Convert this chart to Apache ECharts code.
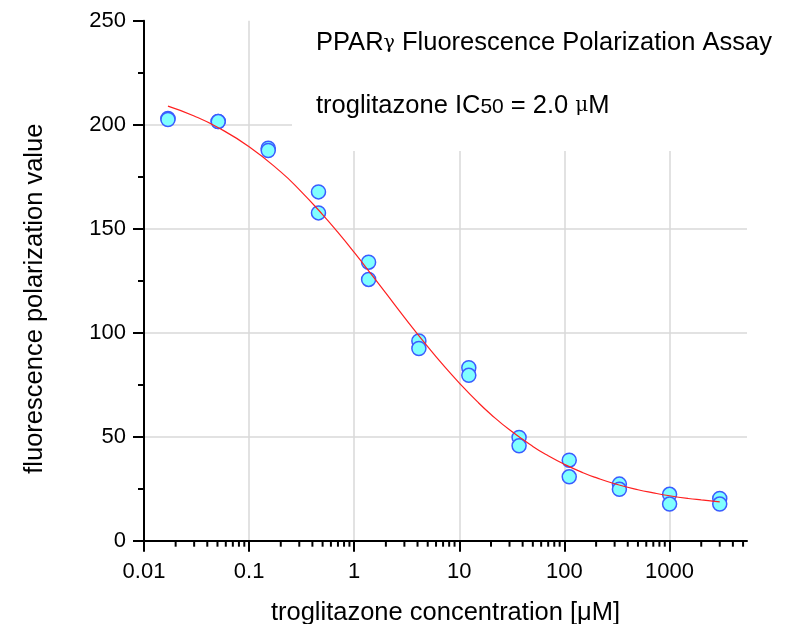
<!DOCTYPE html>
<html>
<head>
<meta charset="utf-8">
<script src="https://cdn.jsdelivr.net/npm/echarts@6/dist/echarts.min.js"></script>
<style>html,body{margin:0;padding:0;background:#fff}#c{width:795px;height:624px}</style>
</head>
<body>
<div id="c"></div>
<script>
// Concentrations (µM) and two replicate readings
const conc = [0.0169, 0.0508, 0.152, 0.457, 1.37, 4.12, 12.3, 37.0, 111, 333, 1000, 3000];
const rep1 = [203.0, 201.5, 188.7, 167.7, 133.9, 96.0, 83.2, 49.6, 38.7, 27.2, 22.3, 20.3];
const rep2 = [202.5, 201.5, 187.6, 157.6, 125.6, 92.4, 79.5, 45.6, 30.7, 24.7, 17.6, 17.6];
// Fitted curve
const fitX = [0.0169, 0.03, 0.05, 0.1, 0.2, 0.3, 0.5, 0.7, 1, 1.5, 2, 3, 5, 7, 10, 15, 20, 30, 50, 70, 100, 150, 200, 300, 500, 700, 1000, 1500, 2000, 3000];
const fitY = [208.9, 204.2, 198.8, 189.4, 177.3, 168.8, 156.8, 148.2, 138.6, 127.2, 119.0, 107.4, 93.3, 84.5, 75.8, 66.6, 60.7, 53.3, 45.3, 40.8, 36.7, 32.7, 30.3, 27.4, 24.5, 23.0, 21.6, 20.3, 19.6, 18.7];
// Axis ticks
const xMajorTicks = [0.01, 0.1, 1, 10, 100, 1000];
const xMinorTicks = [0.02,0.03,0.04,0.05,0.06,0.07,0.08,0.09, 0.2,0.3,0.4,0.5,0.6,0.7,0.8,0.9, 2,3,4,5,6,7,8,9, 20,30,40,50,60,70,80,90, 200,300,400,500,600,700,800,900, 2000,3000,4000,5000];
const yTicks = [0, 50, 100, 150, 200, 250];

const FONT = 'Arial, "Liberation Sans", sans-serif';

const points = [];
conc.forEach((c, i) => { points.push([c, rep1[i]]); points.push([c, rep2[i]]); });
const curve = fitX.map((x, i) => [x, fitY[i]]);

const chart = echarts.init(document.getElementById('c'), null, {renderer: 'canvas'});
chart.setOption({
  animation: false,
  backgroundColor: '#fff',
  grid: {left: 144, right: 48, top: 20.7, bottom: 83.3, containLabel: false, outerBoundsMode: 'none'},
  title: [
    {text: 'PPAR{g|γ} Fluorescence Polarization Assay', left: 316, top: 30, padding: 0, z: 5,
     textStyle: {fontFamily: FONT, fontSize: 25.5, fontWeight: 'normal', color: '#000',
       rich: {g: {fontFamily: '"DejaVu Serif", serif', fontSize: 19, color: '#000'}}}},
    {text: 'troglitazone IC{s|50} = 2.0 {m|μ}M', left: 316, top: 93, padding: 0, z: 5,
     textStyle: {fontFamily: FONT, fontSize: 25.5, fontWeight: 'normal', color: '#000',
       rich: {s: {fontFamily: FONT, fontSize: 21, color: '#000', padding: [3,0,0,0]},
              m: {fontFamily: '"DejaVu Serif", serif', fontSize: 20, color: '#000'}}}}
  ],
  graphic: [
    {type: 'rect', z: 1, silent: true, shape: {x: 292, y: 0, width: 503, height: 151}, style: {fill: '#fff'}}
  ],
  xAxis: {
    type: 'log', logBase: 10, min: 0.01, max: 5450,
    name: 'troglitazone concentration [μM]', nameLocation: 'middle', nameGap: 59,
    nameTextStyle: {fontFamily: FONT, fontSize: 25.5, color: '#000'},
    axisLine: {show: true, onZero: false, lineStyle: {color: '#000', width: 2}},
    axisTick: {show: true, inside: false, length: 11, customValues: xMajorTicks, lineStyle: {color: '#000', width: 2}},
    axisLabel: {show: true, customValues: xMajorTicks, margin: 20, fontFamily: FONT, fontSize: 22, color: '#000',
      formatter: v => (v > 2000 ? '' : String(Number(Number(v).toPrecision(3))))},
    splitLine: {show: true, showMinLine: false, showMaxLine: true, lineStyle: {color: '#d9d9d9', width: 1.5}},
    minorTick: {show: false}
  },
  yAxis: {
    type: 'value', min: yTicks[0], max: yTicks[yTicks.length - 1], interval: 50,
    name: 'fluorescence polarization value', nameLocation: 'middle', nameGap: 96,
    nameTextStyle: {fontFamily: FONT, fontSize: 25.5, color: '#000', padding: [0, 36, 0, 0]},
    axisLine: {show: true, onZero: false, lineStyle: {color: '#000', width: 2}},
    axisTick: {show: true, inside: false, length: 11, lineStyle: {color: '#000', width: 2}},
    minorTick: {show: true, splitNumber: 2, length: 6, lineStyle: {color: '#000', width: 2}},
    axisLabel: {margin: 18, fontFamily: FONT, fontSize: 22, color: '#000'},
    splitLine: {show: true, showMinLine: false, showMaxLine: false, lineStyle: {color: '#d9d9d9', width: 1.5}}
  },
  series: [
    {
      type: 'custom', name: 'minorTicks', silent: true, clip: false, z: 3,
      data: xMinorTicks.map(v => [v, 0]),
      encode: {x: 0, y: 1},
      renderItem: (params, api) => {
        const p = api.coord([api.value(0), 0]);
        return {type: 'line', shape: {x1: p[0], y1: p[1], x2: p[0], y2: p[1] + 6},
                style: {stroke: '#000', lineWidth: 2}};
      }
    },
    {
      type: 'scatter', name: 'data', z: 3, data: points,
      symbol: 'circle', symbolSize: 14,
      itemStyle: {color: '#80ffff', borderColor: '#3a5cff', borderWidth: 1.5, opacity: 1}
    },
    {
      type: 'line', name: 'fit', z: 4, data: curve, smooth: true, showSymbol: false, symbol: 'none',
      lineStyle: {color: '#ff2020', width: 1.2}
    }
  ]
});
</script>
</body>
</html>
